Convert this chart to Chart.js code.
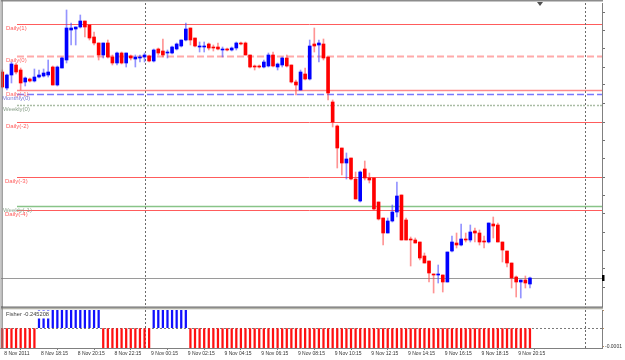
<!DOCTYPE html>
<html>
<head>
<meta charset="utf-8">
<script src="https://cdn.jsdelivr.net/npm/chart.js@4.4.0/dist/chart.umd.min.js"></script>
<style>
  html, body { margin: 0; padding: 0; background: #fff; }
  #wrap { position: relative; width: 625px; height: 360px; overflow: hidden; background: #fff; }
  #main { position: absolute; left: 0; top: 0; }
  #ind { position: absolute; left: 0; top: 306px; }
</style>
</head>
<body>
<div id="wrap">
  <canvas id="main" width="625" height="308"></canvas>
  <canvas id="ind" width="625" height="54"></canvas>
</div>
<script>
// EURUSD M15, 8 Nov 16:15 -> 9 Nov 20:15
const openP = [
  1.3753,1.3737,1.3750,1.3760,1.3755,1.3743,1.3746,1.3744,1.3748,1.3749,
  1.3750,1.3758,1.3740,1.3757,1.3765,1.3795,1.3796,1.3798,1.3804,1.3800,
  1.3788,1.3782,1.3770,1.3782,1.3768,1.3762,1.3772,1.3762,1.3769,1.3766,
  1.3767,1.3768,1.3769,1.3764,1.3776,1.3774,1.3772,1.3772,1.3776,1.3779,
  1.3785,1.3797,1.3787,1.3778,1.3778,1.3781,1.3778,1.3778,1.3775,1.3776,
  1.3775,1.3777,1.3782,1.3782,1.3770,1.3759,1.3759,1.3758,1.3759,1.3770,
  1.3758,1.3760,1.3767,1.3760,1.3743,1.3735,1.3751,1.3746,1.3781,1.3780,
  1.3781,1.3768,1.3723,1.3699,1.3677,1.3662,1.3667,1.3646,1.3624,1.3656,
  1.3647,1.3647,1.3623,1.3607,1.3592,1.3604,1.3613,1.3630,1.3605,1.3586,
  1.3585,1.3583,1.3569,1.3564,1.3551,1.3550,1.3550,1.3543,1.3574,1.3582,
  1.3580,1.3586,1.3585,1.3594,1.3592,1.3584,1.3583,1.3601,1.3600,1.3583,
  1.3574,1.3562,1.3548,1.3543,1.3545,1.3541
];
const highP = [
  1.3755,1.3751,1.3763,1.3762,1.3757,1.3748,1.3747,1.3756,1.3755,1.3756,
  1.3765,1.3759,1.3759,1.3768,1.3815,1.3802,1.3798,1.3810,1.3804,1.3800,
  1.3793,1.3782,1.3782,1.3785,1.3770,1.3773,1.3773,1.3772,1.3770,1.3770,
  1.3770,1.3772,1.3770,1.3776,1.3777,1.3786,1.3775,1.3779,1.3782,1.3785,
  1.3802,1.3797,1.3787,1.3783,1.3783,1.3782,1.3780,1.3782,1.3778,1.3777,
  1.3778,1.3783,1.3783,1.3783,1.3770,1.3760,1.3760,1.3765,1.3772,1.3773,
  1.3762,1.3768,1.3770,1.3760,1.3745,1.3755,1.3757,1.3785,1.3797,1.3785,
  1.3786,1.3768,1.3725,1.3700,1.3677,1.3672,1.3667,1.3653,1.3654,1.3664,
  1.3652,1.3647,1.3623,1.3607,1.3607,1.3620,1.3643,1.3630,1.3607,1.3588,
  1.3587,1.3583,1.3572,1.3564,1.3551,1.3560,1.3550,1.3573,1.3589,1.3592,
  1.3601,1.3592,1.3600,1.3597,1.3595,1.3589,1.3602,1.3608,1.3602,1.3583,
  1.3574,1.3562,1.3549,1.3545,1.3549,1.3548
];
const lowP = [
  1.3737,1.3735,1.3742,1.3751,1.3735,1.3739,1.3743,1.3743,1.3747,1.3748,
  1.3748,1.3740,1.3739,1.3757,1.3762,1.3780,1.3780,1.3797,1.3788,1.3785,
  1.3780,1.3765,1.3767,1.3767,1.3760,1.3760,1.3761,1.3758,1.3765,1.3758,
  1.3763,1.3763,1.3763,1.3763,1.3770,1.3768,1.3767,1.3771,1.3775,1.3778,
  1.3784,1.3780,1.3778,1.3773,1.3773,1.3775,1.3774,1.3775,1.3768,1.3774,
  1.3774,1.3775,1.3780,1.3770,1.3757,1.3755,1.3757,1.3757,1.3758,1.3758,
  1.3755,1.3758,1.3758,1.3742,1.3730,1.3735,1.3745,1.3745,1.3773,1.3763,
  1.3765,1.3725,1.3698,1.3657,1.3650,1.3646,1.3645,1.3626,1.3623,1.3645,
  1.3642,1.3615,1.3605,1.3580,1.3592,1.3603,1.3608,1.3585,1.3585,1.3559,
  1.3582,1.3565,1.3562,1.3543,1.3532,1.3542,1.3533,1.3543,1.3573,1.3577,
  1.3579,1.3583,1.3583,1.3583,1.3580,1.3577,1.3582,1.3587,1.3583,1.3563,
  1.3558,1.3537,1.3528,1.3527,1.3537,1.3537
];
const closeP = [
  1.3738,1.3750,1.3761,1.3753,1.3742,1.3747,1.3744,1.3748,1.3750,1.3752,
  1.3753,1.3740,1.3758,1.3767,1.3797,1.3797,1.3798,1.3804,1.3798,1.3787,
  1.3782,1.3770,1.3782,1.3768,1.3762,1.3772,1.3762,1.3772,1.3767,1.3768,
  1.3768,1.3770,1.3764,1.3775,1.3772,1.3770,1.3773,1.3778,1.3781,1.3785,
  1.3796,1.3785,1.3779,1.3779,1.3779,1.3777,1.3777,1.3776,1.3776,1.3775,
  1.3777,1.3782,1.3781,1.3770,1.3758,1.3758,1.3758,1.3763,1.3770,1.3759,
  1.3761,1.3767,1.3759,1.3743,1.3740,1.3753,1.3746,1.3779,1.3779,1.3782,
  1.3767,1.3732,1.3703,1.3677,1.3662,1.3666,1.3646,1.3626,1.3653,1.3647,
  1.3645,1.3616,1.3606,1.3592,1.3604,1.3613,1.3629,1.3585,1.3585,1.3585,
  1.3582,1.3567,1.3562,1.3552,1.3550,1.3551,1.3543,1.3573,1.3583,1.3580,
  1.3586,1.3585,1.3593,1.3592,1.3583,1.3583,1.3602,1.3599,1.3583,1.3575,
  1.3562,1.3547,1.3543,1.3545,1.3542,1.3547
];

// Fisher histogram, one value per bar (clipped by the window range)
const fisher = [
  -0.62,-0.71,-0.55,-0.38,-0.41,-0.30,-0.22,-0.08,
  0.12,0.35,0.88,1.42,1.71,1.65,1.38,1.02,0.74,0.52,0.31,0.18,0.09,0.04,
  -0.11,-0.27,-0.35,-0.48,-0.41,-0.33,-0.29,-0.22,-0.15,-0.09,-0.03,
  0.08,0.21,0.37,0.52,0.61,0.47,0.30,0.12,
  -0.06,-0.18,-0.31,-0.40,-0.46,-0.52,-0.55,-0.58,-0.61,-0.66,
  -0.72,-0.80,-0.86,-0.90,-0.97,-1.05,-1.10,-1.14,-1.18,-1.21,
  -1.25,-1.31,-1.38,-1.52,-1.70,-1.95,-2.21,-2.44,-2.62,-2.71,
  -2.80,-2.86,-2.93,-2.98,-3.02,-3.04,-3.01,-2.95,-2.92,-2.94,
  -2.99,-3.05,-3.10,-3.12,-3.08,-3.00,-2.86,-2.65,-2.41,-2.18,
  -1.96,-1.74,-1.55,-1.36,-1.20,-1.05,-0.93,-0.82,-0.74,-0.66,
  -0.60,-0.55,-0.50,-0.47,-0.45,-0.48,-0.53,-0.58,-0.55,-0.49,
  -0.42,-0.36,-0.31,-0.27,-0.245208
];
const fisherLast = '-0.245208';

// time axis labels and the bars they sit on
const timeLabels = ['8 Nov 2011','8 Nov 18:15','8 Nov 20:15','8 Nov 22:15','9 Nov 00:15',
  '9 Nov 02:15','9 Nov 04:15','9 Nov 06:15','9 Nov 08:15','9 Nov 10:15','9 Nov 12:15',
  '9 Nov 14:15','9 Nov 16:15','9 Nov 18:15','9 Nov 20:15'];
const timeLabelBars = [0,8,16,24,32,40,48,56,64,72,80,88,96,104,112];
const daySeparators = [31, 127];   // 9 Nov 00:00, 10 Nov 00:00
const lastSlot = 130.7;            // chart shift space on the right

// pivot levels
const levelNames  = ['Daily(1)','Daily(0)','Daily(-1)','Monthly(0)','Weekly(0)','Daily(-2)','Daily(-3)','Weekly(-1)','Daily(-4)'];
const levelValues = [1.3801, 1.3769, 1.3735, 1.3731, 1.3720, 1.3703, 1.3648, 1.3619, 1.3615];
const bidPrice = 1.3547;
const priceTicks = [1.3813,1.3795,1.3777,1.3758,1.3740,1.3722,1.3703,1.3685,1.3667,
  1.3648,1.3630,1.3612,1.3593,1.3575,1.3557,1.3538];
const priceMin = 1.3519, priceMax = 1.3822;
const indTicks = [0.0001, 0, -0.0001];

Chart.defaults.font.family = '"Liberation Sans", Arial, sans-serif';

const levelStyles = [
  { color: '#ff5c5c', width: 1,   dash: [],    text: '#ff5c5c', tx: 6 },
  { color: '#ffaaaa', width: 2,   dash: [7,3], text: '#ff6a6a', tx: 6 },
  { color: '#ff8a8a', width: 1.5, dash: [],    text: '#ff6a6a', tx: 6 },
  { color: '#7878ff', width: 1.5, dash: [7,3], text: '#7878d8', tx: 2 },
  { color: '#a9bca4', width: 1.5, dash: [2,1,2,1,2,2], text: '#8aa08a', tx: 3 },
  { color: '#ff5c5c', width: 1,   dash: [],    text: '#ff5c5c', tx: 6 },
  { color: '#ff5c5c', width: 1,   dash: [],    text: '#ff5c5c', tx: 5 },
  { color: '#88c488', width: 1.5, dash: [],    text: '#90a890', tx: 3 },
  { color: '#ff5c5c', width: 1,   dash: [],    text: '#ff5c5c', tx: 5 }
];

const bars = openP.map((_, i) => i);
const isUp = bars.map(i => closeP[i] >= openP[i]);

const xScale = (display) => ({
  type: 'linear', min: -0.5, max: lastSlot, offset: false, display: display
});

function vLines(chart, top, bottom) {
  const {ctx, scales: {x}} = chart;
  ctx.save();
  ctx.strokeStyle = '#6a6a6a';
  ctx.lineWidth = 1;
  ctx.setLineDash([2, 2]);
  daySeparators.forEach(b => {
    const px = Math.round(x.getPixelForValue(b)) + 0.5;
    ctx.beginPath(); ctx.moveTo(px, top); ctx.lineTo(px, bottom); ctx.stroke();
  });
  ctx.restore();
}

const mainDecor = {
  id: 'mainDecor',
  beforeDatasetsDraw(chart) {
    const {ctx, chartArea: a, scales: {y}} = chart;
    ctx.save();
    // bid line
    const by = Math.round(y.getPixelForValue(bidPrice)) + 0.5;
    ctx.strokeStyle = '#9a9a9a'; ctx.lineWidth = 1;
    ctx.beginPath(); ctx.moveTo(a.left, by); ctx.lineTo(a.right, by); ctx.stroke();
    levelValues.forEach((v, i) => {
      const st = levelStyles[i];
      const py = Math.round(y.getPixelForValue(v)) + 0.5;
      ctx.strokeStyle = st.color; ctx.lineWidth = st.width; ctx.setLineDash(st.dash);
      ctx.beginPath(); ctx.moveTo(17, py); ctx.lineTo(a.right, py); ctx.stroke();
    });
    ctx.restore();
    vLines(chart, a.top, chart.height);
  },
  afterDatasetsDraw(chart) {
    const {ctx, chartArea: a, scales: {y}} = chart;
    ctx.save();
    ctx.font = '6px "Liberation Sans", Arial, sans-serif';
    ctx.textBaseline = 'middle';
    levelValues.forEach((v, i) => {
      const st = levelStyles[i];
      ctx.fillStyle = st.text;
      ctx.fillText(levelNames[i], st.tx, y.getPixelForValue(v) + 4);
    });
    // frame
    ctx.fillStyle = '#8c8c8c';
    ctx.fillRect(0, 0, a.right + 1, 1.5);
    ctx.fillStyle = '#c8c8c8';
    ctx.fillRect(0, 0, 1, chart.height);
    ctx.fillStyle = '#7a7a7a';
    ctx.fillRect(1.5, 0, 1.2, chart.height);
    // chart shift marker
    ctx.fillStyle = '#505050';
    ctx.beginPath(); ctx.moveTo(537, 2); ctx.lineTo(543, 2); ctx.lineTo(540, 6); ctx.closePath(); ctx.fill();
    // current price marker on the scale
    const by = y.getPixelForValue(bidPrice);
    ctx.fillStyle = '#000';
    ctx.fillRect(a.right, by - 3, 2.5, 6);
    ctx.restore();
  }
};

new Chart(document.getElementById('main'), {
  type: 'bar',
  data: {
    datasets: [
      {
        label: 'body',
        data: bars.map(i => ({ x: i, y: [Math.min(openP[i], closeP[i]), Math.max(openP[i], closeP[i])] })),
        backgroundColor: bars.map(i => isUp[i] ? '#0000ff' : '#ff0000'),
        barThickness: 3, minBarLength: 1, grouped: false, borderWidth: 0
      },
      {
        label: 'wick',
        data: bars.map(i => ({ x: i, y: [lowP[i], highP[i]] })),
        backgroundColor: bars.map(i => isUp[i] ? 'rgba(60,60,255,0.55)' : 'rgba(255,60,60,0.55)'),
        barThickness: 1, grouped: false, borderWidth: 0
      }
    ]
  },
  options: {
    responsive: false,
    animation: false,
    layout: { padding: { top: 3, bottom: 2, left: 0, right: 0 } },
    plugins: { legend: { display: false }, tooltip: { enabled: false } },
    scales: {
      x: xScale(false),
      y: {
        position: 'right', min: priceMin, max: priceMax,
        afterBuildTicks: s => { s.ticks = priceTicks.map(v => ({ value: v })); },
        afterFit: s => { s.width = 23; },
        ticks: { display: false },
        grid: { drawOnChartArea: false, drawTicks: true, tickLength: 3, color: '#707070' },
        border: { color: '#808080' }
      }
    }
  },
  plugins: [mainDecor]
});

const indDecor = {
  id: 'indDecor',
  beforeDatasetsDraw(chart) {
    const {ctx, chartArea: a, scales: {y}} = chart;
    ctx.save();
    const zy = Math.round(y.getPixelForValue(0)) + 0.5;
    ctx.strokeStyle = '#7a7a7a'; ctx.lineWidth = 1; ctx.setLineDash([2, 2]);
    ctx.beginPath(); ctx.moveTo(a.left, zy); ctx.lineTo(a.right, zy); ctx.stroke();
    ctx.restore();
    vLines(chart, a.top, a.bottom);
  },
  afterDatasetsDraw(chart) {
    const {ctx, chartArea: a} = chart;
    ctx.save();
    // panel separator
    ctx.fillStyle = '#6e6e6e';
    ctx.fillRect(0, 0.5, a.right + 1, 1.3);
    ctx.fillStyle = '#b4b4aa';
    ctx.fillRect(0, 2, a.right + 1, 1.3);
    // left frame
    ctx.fillStyle = '#c8c8c8';
    ctx.fillRect(0, 0, 1, a.bottom);
    ctx.fillStyle = '#7a7a7a';
    ctx.fillRect(1.5, 0, 1.2, a.bottom);
    // indicator caption
    ctx.font = '5.7px "Liberation Sans", Arial, sans-serif';
    const txt = 'Fisher ' + fisherLast;
    const w = ctx.measureText(txt).width;
    ctx.fillStyle = '#ffffff';
    ctx.fillRect(4, a.top + 0.5, w + 4, 8);
    ctx.fillStyle = '#404040';
    ctx.textBaseline = 'middle';
    ctx.fillText(txt, 6, a.top + 4.5);
    ctx.restore();
  }
};

new Chart(document.getElementById('ind'), {
  type: 'bar',
  data: {
    datasets: [{
      label: 'Fisher',
      data: fisher.map((v, i) => ({ x: i, y: v })),
      backgroundColor: fisher.map(v => v >= 0 ? '#1010ff' : '#ff1010'),
      barThickness: 1.6, grouped: false, borderWidth: 0
    }]
  },
  options: {
    responsive: false,
    animation: false,
    layout: { padding: { top: 4, bottom: 0, left: 0, right: 0 } },
    plugins: { legend: { display: false }, tooltip: { enabled: false } },
    scales: {
      x: Object.assign(xScale(true), {
        position: 'bottom',
        afterBuildTicks: s => { s.ticks = timeLabelBars.map(v => ({ value: v })); },
        afterFit: s => { s.height = 12; },
        ticks: {
          callback: (v, i) => timeLabels[i],
          align: 'start', labelOffset: 2, maxRotation: 0, minRotation: 0, autoSkip: false,
          font: { size: 5 }, color: '#333333', padding: 1
        },
        grid: { drawOnChartArea: false, drawTicks: true, tickLength: 2, color: '#808080' },
        border: { color: '#808080' }
      }),
      y: {
        position: 'right', min: -0.00011, max: 0.0001,
        afterBuildTicks: s => { s.ticks = indTicks.map(v => ({ value: v })); },
        afterFit: s => { s.width = 23; },
        ticks: {
          callback: v => (v < 0 ? '-0.0001' : ''),
          font: { size: 5 }, color: '#333333', padding: 1
        },
        grid: { drawOnChartArea: false, drawTicks: true, tickLength: 2, color: '#c09060' },
        border: { color: '#808080' }
      }
    }
  },
  plugins: [indDecor]
});
</script>
</body>
</html>
